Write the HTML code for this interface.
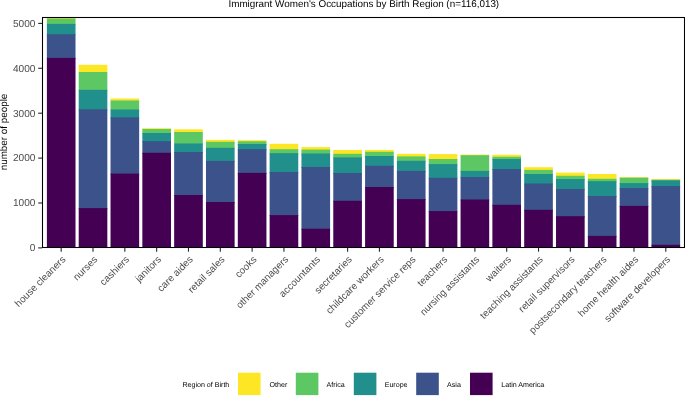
<!DOCTYPE html>
<html><head><meta charset="utf-8"><style>
html,body{margin:0;padding:0;background:#fff;}
svg{display:block;font-family:"Liberation Sans",sans-serif;will-change:transform;text-rendering:geometricPrecision;}
</style></head><body>
<svg width="685" height="404" viewBox="0 0 685 404">
<rect width="685" height="404" fill="#fff"/>
<defs><clipPath id="pc"><rect x="42.1" y="17.4" width="642.8" height="230.2"/></clipPath></defs>
<g clip-path="url(#pc)" shape-rendering="auto">
<rect x="46.87" y="17.30" width="28.64" height="2.30" fill="#FDE725"/>
<rect x="46.87" y="18.60" width="28.64" height="6.30" fill="#5DC863"/>
<rect x="46.87" y="23.90" width="28.64" height="11.40" fill="#21908C"/>
<rect x="46.87" y="34.30" width="28.64" height="24.60" fill="#3B528B"/>
<rect x="46.87" y="57.90" width="28.64" height="190.70" fill="#440154"/>
<rect x="78.70" y="64.80" width="28.64" height="8.20" fill="#FDE725"/>
<rect x="78.70" y="72.00" width="28.64" height="18.80" fill="#5DC863"/>
<rect x="78.70" y="89.80" width="28.64" height="20.50" fill="#21908C"/>
<rect x="78.70" y="109.30" width="28.64" height="99.80" fill="#3B528B"/>
<rect x="78.70" y="208.10" width="28.64" height="40.50" fill="#440154"/>
<rect x="110.52" y="98.50" width="28.64" height="3.00" fill="#FDE725"/>
<rect x="110.52" y="100.50" width="28.64" height="10.00" fill="#5DC863"/>
<rect x="110.52" y="109.50" width="28.64" height="8.90" fill="#21908C"/>
<rect x="110.52" y="117.40" width="28.64" height="57.20" fill="#3B528B"/>
<rect x="110.52" y="173.60" width="28.64" height="75.00" fill="#440154"/>
<rect x="142.34" y="128.20" width="28.64" height="1.80" fill="#FDE725"/>
<rect x="142.34" y="129.00" width="28.64" height="5.00" fill="#5DC863"/>
<rect x="142.34" y="133.00" width="28.64" height="9.20" fill="#21908C"/>
<rect x="142.34" y="141.20" width="28.64" height="12.60" fill="#3B528B"/>
<rect x="142.34" y="152.80" width="28.64" height="95.80" fill="#440154"/>
<rect x="174.16" y="129.30" width="28.64" height="3.70" fill="#FDE725"/>
<rect x="174.16" y="132.00" width="28.64" height="12.50" fill="#5DC863"/>
<rect x="174.16" y="143.50" width="28.64" height="9.50" fill="#21908C"/>
<rect x="174.16" y="152.00" width="28.64" height="44.00" fill="#3B528B"/>
<rect x="174.16" y="195.00" width="28.64" height="53.60" fill="#440154"/>
<rect x="205.98" y="139.80" width="28.64" height="3.00" fill="#FDE725"/>
<rect x="205.98" y="141.80" width="28.64" height="7.00" fill="#5DC863"/>
<rect x="205.98" y="147.80" width="28.64" height="14.10" fill="#21908C"/>
<rect x="205.98" y="160.90" width="28.64" height="42.10" fill="#3B528B"/>
<rect x="205.98" y="202.00" width="28.64" height="46.60" fill="#440154"/>
<rect x="237.80" y="140.20" width="28.64" height="2.10" fill="#FDE725"/>
<rect x="237.80" y="141.30" width="28.64" height="3.70" fill="#5DC863"/>
<rect x="237.80" y="144.00" width="28.64" height="6.20" fill="#21908C"/>
<rect x="237.80" y="149.20" width="28.64" height="24.70" fill="#3B528B"/>
<rect x="237.80" y="172.90" width="28.64" height="75.70" fill="#440154"/>
<rect x="269.63" y="143.80" width="28.64" height="6.40" fill="#FDE725"/>
<rect x="269.63" y="149.20" width="28.64" height="5.00" fill="#5DC863"/>
<rect x="269.63" y="153.20" width="28.64" height="19.80" fill="#21908C"/>
<rect x="269.63" y="172.00" width="28.64" height="44.10" fill="#3B528B"/>
<rect x="269.63" y="215.10" width="28.64" height="33.50" fill="#440154"/>
<rect x="301.45" y="147.10" width="28.64" height="3.50" fill="#FDE725"/>
<rect x="301.45" y="149.60" width="28.64" height="4.90" fill="#5DC863"/>
<rect x="301.45" y="153.50" width="28.64" height="14.50" fill="#21908C"/>
<rect x="301.45" y="167.00" width="28.64" height="62.70" fill="#3B528B"/>
<rect x="301.45" y="228.70" width="28.64" height="19.90" fill="#440154"/>
<rect x="333.27" y="150.00" width="28.64" height="4.80" fill="#FDE725"/>
<rect x="333.27" y="153.80" width="28.64" height="4.60" fill="#5DC863"/>
<rect x="333.27" y="157.40" width="28.64" height="16.60" fill="#21908C"/>
<rect x="333.27" y="173.00" width="28.64" height="28.80" fill="#3B528B"/>
<rect x="333.27" y="200.80" width="28.64" height="47.80" fill="#440154"/>
<rect x="365.09" y="149.90" width="28.64" height="2.90" fill="#FDE725"/>
<rect x="365.09" y="151.80" width="28.64" height="5.20" fill="#5DC863"/>
<rect x="365.09" y="156.00" width="28.64" height="10.80" fill="#21908C"/>
<rect x="365.09" y="165.80" width="28.64" height="22.20" fill="#3B528B"/>
<rect x="365.09" y="187.00" width="28.64" height="61.60" fill="#440154"/>
<rect x="396.91" y="153.80" width="28.64" height="3.60" fill="#FDE725"/>
<rect x="396.91" y="156.40" width="28.64" height="5.40" fill="#5DC863"/>
<rect x="396.91" y="160.80" width="28.64" height="11.10" fill="#21908C"/>
<rect x="396.91" y="170.90" width="28.64" height="29.20" fill="#3B528B"/>
<rect x="396.91" y="199.10" width="28.64" height="49.50" fill="#440154"/>
<rect x="428.73" y="154.10" width="28.64" height="5.90" fill="#FDE725"/>
<rect x="428.73" y="159.00" width="28.64" height="6.10" fill="#5DC863"/>
<rect x="428.73" y="164.10" width="28.64" height="14.70" fill="#21908C"/>
<rect x="428.73" y="177.80" width="28.64" height="34.30" fill="#3B528B"/>
<rect x="428.73" y="211.10" width="28.64" height="37.50" fill="#440154"/>
<rect x="460.56" y="154.60" width="28.64" height="1.60" fill="#FDE725"/>
<rect x="460.56" y="155.20" width="28.64" height="16.70" fill="#5DC863"/>
<rect x="460.56" y="170.90" width="28.64" height="7.10" fill="#21908C"/>
<rect x="460.56" y="177.00" width="28.64" height="23.50" fill="#3B528B"/>
<rect x="460.56" y="199.50" width="28.64" height="49.10" fill="#440154"/>
<rect x="492.38" y="154.80" width="28.64" height="3.00" fill="#FDE725"/>
<rect x="492.38" y="156.80" width="28.64" height="3.20" fill="#5DC863"/>
<rect x="492.38" y="159.00" width="28.64" height="11.00" fill="#21908C"/>
<rect x="492.38" y="169.00" width="28.64" height="36.80" fill="#3B528B"/>
<rect x="492.38" y="204.80" width="28.64" height="43.80" fill="#440154"/>
<rect x="524.20" y="167.20" width="28.64" height="3.70" fill="#FDE725"/>
<rect x="524.20" y="169.90" width="28.64" height="5.10" fill="#5DC863"/>
<rect x="524.20" y="174.00" width="28.64" height="10.50" fill="#21908C"/>
<rect x="524.20" y="183.50" width="28.64" height="27.30" fill="#3B528B"/>
<rect x="524.20" y="209.80" width="28.64" height="38.80" fill="#440154"/>
<rect x="556.02" y="172.60" width="28.64" height="4.20" fill="#FDE725"/>
<rect x="556.02" y="175.80" width="28.64" height="4.20" fill="#5DC863"/>
<rect x="556.02" y="179.00" width="28.64" height="11.00" fill="#21908C"/>
<rect x="556.02" y="189.00" width="28.64" height="28.20" fill="#3B528B"/>
<rect x="556.02" y="216.20" width="28.64" height="32.40" fill="#440154"/>
<rect x="587.84" y="174.00" width="28.64" height="5.80" fill="#FDE725"/>
<rect x="587.84" y="178.80" width="28.64" height="3.40" fill="#5DC863"/>
<rect x="587.84" y="181.20" width="28.64" height="15.80" fill="#21908C"/>
<rect x="587.84" y="196.00" width="28.64" height="40.90" fill="#3B528B"/>
<rect x="587.84" y="235.90" width="28.64" height="12.70" fill="#440154"/>
<rect x="619.67" y="177.20" width="28.64" height="1.50" fill="#FDE725"/>
<rect x="619.67" y="177.70" width="28.64" height="6.40" fill="#5DC863"/>
<rect x="619.67" y="183.10" width="28.64" height="6.00" fill="#21908C"/>
<rect x="619.67" y="188.10" width="28.64" height="18.80" fill="#3B528B"/>
<rect x="619.67" y="205.90" width="28.64" height="42.70" fill="#440154"/>
<rect x="651.49" y="179.00" width="28.64" height="1.80" fill="#FDE725"/>
<rect x="651.49" y="179.80" width="28.64" height="1.60" fill="#5DC863"/>
<rect x="651.49" y="180.40" width="28.64" height="6.70" fill="#21908C"/>
<rect x="651.49" y="186.10" width="28.64" height="59.70" fill="#3B528B"/>
<rect x="651.49" y="244.80" width="28.64" height="3.80" fill="#440154"/>
</g>
<rect x="42.5" y="17.5" width="642" height="230" fill="none" stroke="#000" stroke-width="1.07"/>
<line x1="38.2" x2="42.1" y1="23.4" y2="23.4" stroke="#262626" stroke-width="1.1"/>
<text x="35.4" y="26.7" text-anchor="end" font-size="10.1" fill="#4D4D4D">5000</text>
<line x1="38.2" x2="42.1" y1="68.3" y2="68.3" stroke="#262626" stroke-width="1.1"/>
<text x="35.4" y="71.6" text-anchor="end" font-size="10.1" fill="#4D4D4D">4000</text>
<line x1="38.2" x2="42.1" y1="113.2" y2="113.2" stroke="#262626" stroke-width="1.1"/>
<text x="35.4" y="116.5" text-anchor="end" font-size="10.1" fill="#4D4D4D">3000</text>
<line x1="38.2" x2="42.1" y1="158.1" y2="158.1" stroke="#262626" stroke-width="1.1"/>
<text x="35.4" y="161.4" text-anchor="end" font-size="10.1" fill="#4D4D4D">2000</text>
<line x1="38.2" x2="42.1" y1="203.0" y2="203.0" stroke="#262626" stroke-width="1.1"/>
<text x="35.4" y="206.3" text-anchor="end" font-size="10.1" fill="#4D4D4D">1000</text>
<line x1="38.2" x2="42.1" y1="247.9" y2="247.9" stroke="#262626" stroke-width="1.1"/>
<text x="35.4" y="251.2" text-anchor="end" font-size="10.1" fill="#4D4D4D">0</text>
<line x1="61.19" x2="61.19" y1="247.6" y2="251.7" stroke="#262626" stroke-width="1.1"/>
<text transform="translate(66.19,260.1) rotate(-45)" text-anchor="end" font-size="9.9" fill="#4D4D4D">house cleaners</text>
<line x1="93.01" x2="93.01" y1="247.6" y2="251.7" stroke="#262626" stroke-width="1.1"/>
<text transform="translate(98.01,260.1) rotate(-45)" text-anchor="end" font-size="9.9" fill="#4D4D4D">nurses</text>
<line x1="124.84" x2="124.84" y1="247.6" y2="251.7" stroke="#262626" stroke-width="1.1"/>
<text transform="translate(129.84,260.1) rotate(-45)" text-anchor="end" font-size="9.9" fill="#4D4D4D">cashiers</text>
<line x1="156.66" x2="156.66" y1="247.6" y2="251.7" stroke="#262626" stroke-width="1.1"/>
<text transform="translate(161.66,260.1) rotate(-45)" text-anchor="end" font-size="9.9" fill="#4D4D4D">janitors</text>
<line x1="188.48" x2="188.48" y1="247.6" y2="251.7" stroke="#262626" stroke-width="1.1"/>
<text transform="translate(193.48,260.1) rotate(-45)" text-anchor="end" font-size="9.9" fill="#4D4D4D">care aides</text>
<line x1="220.30" x2="220.30" y1="247.6" y2="251.7" stroke="#262626" stroke-width="1.1"/>
<text transform="translate(225.30,260.1) rotate(-45)" text-anchor="end" font-size="9.9" fill="#4D4D4D">retail sales</text>
<line x1="252.12" x2="252.12" y1="247.6" y2="251.7" stroke="#262626" stroke-width="1.1"/>
<text transform="translate(257.12,260.1) rotate(-45)" text-anchor="end" font-size="9.9" fill="#4D4D4D">cooks</text>
<line x1="283.95" x2="283.95" y1="247.6" y2="251.7" stroke="#262626" stroke-width="1.1"/>
<text transform="translate(288.95,260.1) rotate(-45)" text-anchor="end" font-size="9.9" fill="#4D4D4D">other managers</text>
<line x1="315.77" x2="315.77" y1="247.6" y2="251.7" stroke="#262626" stroke-width="1.1"/>
<text transform="translate(320.77,260.1) rotate(-45)" text-anchor="end" font-size="9.9" fill="#4D4D4D">accountants</text>
<line x1="347.59" x2="347.59" y1="247.6" y2="251.7" stroke="#262626" stroke-width="1.1"/>
<text transform="translate(352.59,260.1) rotate(-45)" text-anchor="end" font-size="9.9" fill="#4D4D4D">secretaries</text>
<line x1="379.41" x2="379.41" y1="247.6" y2="251.7" stroke="#262626" stroke-width="1.1"/>
<text transform="translate(384.41,260.1) rotate(-45)" text-anchor="end" font-size="9.9" fill="#4D4D4D">childcare workers</text>
<line x1="411.23" x2="411.23" y1="247.6" y2="251.7" stroke="#262626" stroke-width="1.1"/>
<text transform="translate(416.23,260.1) rotate(-45)" text-anchor="end" font-size="9.9" fill="#4D4D4D">customer service reps</text>
<line x1="443.05" x2="443.05" y1="247.6" y2="251.7" stroke="#262626" stroke-width="1.1"/>
<text transform="translate(448.05,260.1) rotate(-45)" text-anchor="end" font-size="9.9" fill="#4D4D4D">teachers</text>
<line x1="474.88" x2="474.88" y1="247.6" y2="251.7" stroke="#262626" stroke-width="1.1"/>
<text transform="translate(479.88,260.1) rotate(-45)" text-anchor="end" font-size="9.9" fill="#4D4D4D">nursing assistants</text>
<line x1="506.70" x2="506.70" y1="247.6" y2="251.7" stroke="#262626" stroke-width="1.1"/>
<text transform="translate(511.70,260.1) rotate(-45)" text-anchor="end" font-size="9.9" fill="#4D4D4D">waiters</text>
<line x1="538.52" x2="538.52" y1="247.6" y2="251.7" stroke="#262626" stroke-width="1.1"/>
<text transform="translate(543.52,260.1) rotate(-45)" text-anchor="end" font-size="9.9" fill="#4D4D4D">teaching assistants</text>
<line x1="570.34" x2="570.34" y1="247.6" y2="251.7" stroke="#262626" stroke-width="1.1"/>
<text transform="translate(575.34,260.1) rotate(-45)" text-anchor="end" font-size="9.9" fill="#4D4D4D">retail supervisors</text>
<line x1="602.16" x2="602.16" y1="247.6" y2="251.7" stroke="#262626" stroke-width="1.1"/>
<text transform="translate(607.16,260.1) rotate(-45)" text-anchor="end" font-size="9.9" fill="#4D4D4D">postsecondary teachers</text>
<line x1="633.99" x2="633.99" y1="247.6" y2="251.7" stroke="#262626" stroke-width="1.1"/>
<text transform="translate(638.99,260.1) rotate(-45)" text-anchor="end" font-size="9.9" fill="#4D4D4D">home health aides</text>
<line x1="665.81" x2="665.81" y1="247.6" y2="251.7" stroke="#262626" stroke-width="1.1"/>
<text transform="translate(670.81,260.1) rotate(-45)" text-anchor="end" font-size="9.9" fill="#4D4D4D">software developers</text>
<text x="363.8" y="7.1" text-anchor="middle" font-size="9.9" fill="#000">Immigrant Women's Occupations by Birth Region (n=116,013)</text>
<text transform="translate(7.3,132.0) rotate(-90)" text-anchor="middle" font-size="9.85" fill="#000">number of people</text>
<text x="182.4" y="386.6" font-size="7.1" fill="#000">Region of Birth</text>
<rect x="238.0" y="372.7" width="22.6" height="22.4" fill="#FDE725"/>
<text x="269.6" y="386.6" font-size="7.1" fill="#000">Other</text>
<rect x="295.8" y="372.7" width="22.6" height="22.4" fill="#5DC863"/>
<text x="326.5" y="386.6" font-size="7.1" fill="#000">Africa</text>
<rect x="353.8" y="372.7" width="22.6" height="22.4" fill="#21908C"/>
<text x="384.7" y="386.6" font-size="7.1" fill="#000">Europe</text>
<rect x="416.2" y="372.7" width="22.6" height="22.4" fill="#3B528B"/>
<text x="447.1" y="386.6" font-size="7.1" fill="#000">Asia</text>
<rect x="470.0" y="372.7" width="22.6" height="22.4" fill="#440154"/>
<text x="501.3" y="386.6" font-size="7.1" fill="#000">Latin America</text>
</svg>
</body></html>
